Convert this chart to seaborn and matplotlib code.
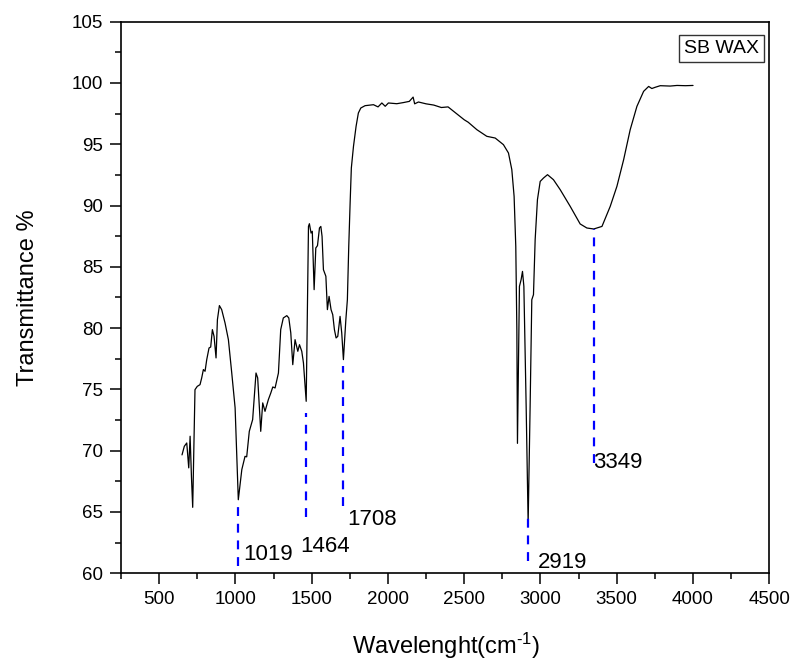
import numpy as np
import pandas as pd
import matplotlib
matplotlib.use("Agg")
import matplotlib.pyplot as plt
from matplotlib.ticker import MultipleLocator
import seaborn as sns

# FTIR spectrum of SB WAX
wavenumber = [650, 665, 681, 694, 703, 712, 720, 735, 750, 768, 779, 790, 801, 812,
              827, 838, 849, 860, 873, 882, 895, 910, 932, 954, 965, 976, 998, 1019,
              1042, 1063, 1074, 1091, 1113, 1135, 1146, 1166, 1179, 1194, 1216, 1232,
              1245, 1260, 1282, 1297, 1314, 1337, 1350, 1363, 1376, 1391, 1409, 1420,
              1435, 1446, 1464, 1479, 1485, 1496, 1504, 1516, 1527, 1538, 1551, 1560,
              1568, 1577, 1593, 1603, 1614, 1627, 1638, 1649, 1660, 1671, 1686, 1697,
              1708, 1724, 1734, 1743, 1752, 1760, 1774, 1791, 1806, 1822, 1850, 1905,
              1935, 1960, 1982, 2003, 2058, 2100, 2140, 2165, 2175, 2200, 2250, 2300,
              2350, 2394, 2450, 2500, 2526, 2583, 2648, 2703, 2757, 2790, 2812, 2827,
              2838, 2845, 2849, 2862, 2873, 2882, 2891, 2906, 2919, 2932, 2943, 2954,
              2965, 2980, 2998, 3020, 3046, 3085, 3129, 3195, 3260, 3304, 3349, 3403,
              3457, 3501, 3545, 3588, 3632, 3676, 3709, 3730, 3752, 3785, 3850, 3895,
              3950, 4000]
transmittance = [69.66, 70.36, 70.63, 68.6, 71.18, 67.8, 65.38, 74.98, 75.25, 75.39, 75.94,
                 76.62, 76.48, 77.43, 78.38, 78.46, 79.88, 79.33, 77.57, 80.69, 81.84,
                 81.51, 80.42, 79.06, 77.7, 76.34, 73.5, 66.0, 68.46, 69.54, 69.5, 71.58,
                 72.54, 76.34, 75.94, 71.58, 73.9, 73.21, 74.17, 74.71, 75.2, 75.12,
                 76.34, 79.88, 80.83, 81.02, 80.83, 79.61, 77.02, 79.06, 78.11, 78.65,
                 78.11, 77.16, 74.03, 88.3, 88.52, 87.76, 87.9, 83.14, 86.54, 86.73,
                 88.17, 88.3, 87.49, 84.77, 84.23, 81.51, 82.59, 81.51, 81.1, 79.88,
                 79.2, 79.33, 80.96, 79.61, 77.43, 80.69, 82.32, 86.67, 90.21, 93.07,
                 94.83, 96.46, 97.55, 97.96, 98.15, 98.23, 98.05, 98.37, 98.1, 98.37,
                 98.31, 98.4, 98.5, 98.85, 98.3, 98.45, 98.3, 98.2, 98.0, 98.05, 97.5,
                 97.0, 96.8, 96.19, 95.65, 95.51, 94.97, 94.29, 92.93, 90.75, 86.67,
                 79.88, 70.6, 83.41, 83.96, 84.63, 83.41, 73.62, 64.1, 73.62, 82.32,
                 82.73, 87.22, 90.48, 91.97, 92.25, 92.52, 92.11, 91.3, 89.93, 88.5,
                 88.17, 88.09, 88.3, 89.93, 91.57, 93.74, 96.19, 98.09, 99.32, 99.72,
                 99.55, 99.65, 99.78, 99.75, 99.8, 99.78, 99.8]

# marked peaks: dashed line from the band down, label next to it
peak_wn = [1019, 1464, 1708, 2919, 3349]
peak_top = [66.0, 73.1, 76.9, 64.6, 88.1]
peak_bottom = [60.6, 64.6, 65.5, 61.0, 69.0]
label_wn = [1050, 1424, 1734, 2980, 3348]
label_t = [61.5, 62.2, 64.4, 60.9, 69.0]

df = pd.DataFrame({"wavenumber": wavenumber, "transmittance": transmittance})

sns.set_style("ticks")
plt.rcParams["font.family"] = ["Liberation Sans", "DejaVu Sans"]
plt.rcParams["mathtext.default"] = "regular"
for key in ["text.color", "axes.labelcolor", "xtick.color", "ytick.color"]:
    plt.rcParams[key] = "black"

fig, ax = plt.subplots(figsize=(7.94, 6.6), dpi=100)
fig.subplots_adjust(left=0.1524, right=0.9689, bottom=0.1314, top=0.9671)

sns.lineplot(data=df, x="wavenumber", y="transmittance", color="black",
             linewidth=0.9, sort=False, ax=ax)

ax.vlines(peak_wn, peak_bottom, peak_top, colors="#0000ff",
          linestyles=(0, (4, 3.5)), linewidth=1.6)
for wn, lx, ly in zip(peak_wn, label_wn, label_t):
    ax.text(lx, ly, str(wn), fontsize=16, ha="left", va="center")

ax.text(0.926, 0.952, "SB WAX", transform=ax.transAxes, fontsize=14,
        ha="center", va="center",
        bbox=dict(boxstyle="square,pad=0.25", fc="white", ec="#333333", lw=1))

ax.set_xlim(250, 4500)
ax.set_ylim(60, 105)
ax.xaxis.set_major_locator(MultipleLocator(500))
ax.xaxis.set_minor_locator(MultipleLocator(250))
ax.yaxis.set_major_locator(MultipleLocator(5))
ax.yaxis.set_minor_locator(MultipleLocator(2.5))
ax.tick_params(which="major", direction="out", length=8, width=1.1,
               labelsize=13.5, pad=5, top=False, right=False)
ax.tick_params(which="minor", direction="out", length=4, width=1.1,
               top=False, right=False)
for s in ax.spines.values():
    s.set_linewidth(1.2)
    s.set_color("black")

ax.set_xlabel("Wavelenght(cm$^{\u20101}$)", fontsize=17, va="center")
ax.set_ylabel("Transmittance %", fontsize=17, va="center")
ax.xaxis.set_label_coords(0.5015, -0.132)
ax.yaxis.set_label_coords(-0.1435, 0.5)

fig.savefig("out.png", dpi=100)
